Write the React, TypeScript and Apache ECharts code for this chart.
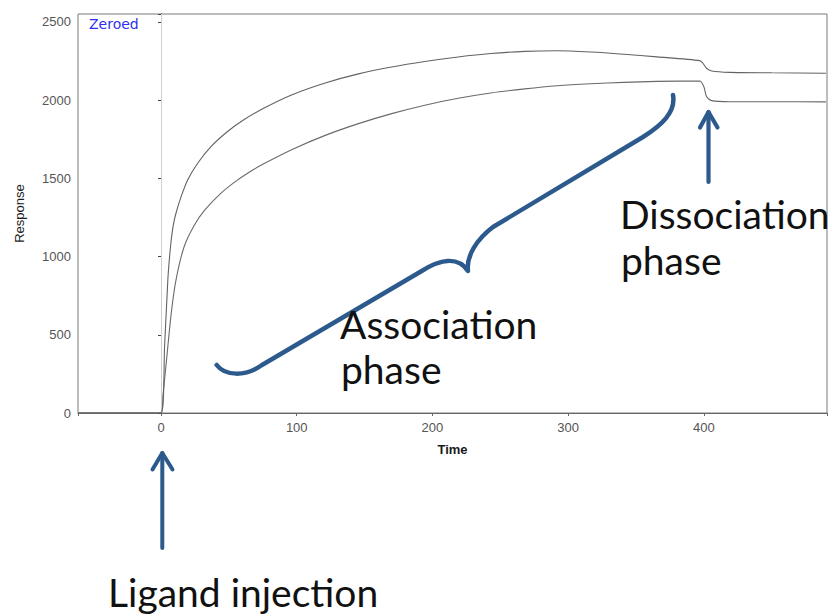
import React, { useEffect, useRef } from "react";
import * as echarts from "echarts";

const xTickLabels = [0, 100, 200, 300, 400];
const yTickLabels = [0, 500, 1000, 1500, 2000, 2500];

const upperTime = [-61, 0, 2.6, 5, 6.2, 7.5, 9, 11, 14.8, 19.6, 27, 36.8, 49, 61, 76, 96.6, 121, 145.5, 170, 194.4, 219, 243, 268, 292, 316.6, 341, 365.5, 397, 399, 402, 405.8, 419, 450, 490];
const upperResp = [0, 0, 424, 850, 990, 1106, 1200, 1277, 1383, 1490, 1597, 1703, 1800, 1875, 1950, 2035, 2110, 2168, 2212, 2247, 2276, 2298, 2312, 2316, 2308, 2294, 2277, 2253, 2240, 2204, 2187, 2178, 2175, 2172];

const lowerTime = [-61, 0, 1.5, 3.8, 7.5, 11, 17, 24.5, 32, 44, 56, 68.5, 76, 96.6, 121, 145.5, 170, 194.4, 219, 243, 268, 292, 316.6, 341, 365.5, 397, 400, 402, 405.8, 419, 450, 490];
const lowerResp = [0, 0, 120, 318, 637, 850, 1063, 1200, 1295, 1404, 1487, 1558, 1595, 1685, 1775, 1850, 1914, 1968, 2012, 2046, 2072, 2092, 2105, 2114, 2120, 2123, 2087, 2023, 1997, 1990, 1990, 1989];

const injectionTime = 0;

const BRACE_D =
  "M216.7,365 C225,376 245,377 262,365 L420,272 C440,259 458,256 468,271 C466,256 477,239 493,227 L643,137 C662,125 676,112 673,95";

echarts.graphic.registerShape("brace", echarts.graphic.extendPath(BRACE_D, {}));

export default function App() {
  const ref = useRef<HTMLDivElement>(null);

  useEffect(() => {
    document.body.style.margin = "0";
    if (!ref.current) return;
    const chart = echarts.init(ref.current, undefined, { renderer: "svg" });
    const blue = "#2D5A8C";
    const annFont = "Lato, 'Open Sans', sans-serif";
    const option: any = {
      animation: false,
      backgroundColor: "#ffffff",
      grid: {
        left: 78,
        right: -1,
        top: 14,
        height: 399,
        show: true,
        borderColor: "#7a7a7a",
        borderWidth: 1,
        containLabel: false,
      },
      xAxis: {
        type: "value",
        min: -61.2,
        max: 490.8,
        splitNumber: 5,
        name: "Time",
        nameLocation: "middle",
        nameGap: 30,
        nameTextStyle: { fontFamily: "Liberation Sans, Arial", fontSize: 13, color: "#1a1a1a", fontWeight: "bold" },
        axisLine: { show: true, onZero: false, lineStyle: { color: "#666", width: 1 } },
        axisTick: { show: true, length: 3, lineStyle: { color: "#666" } },
        axisLabel: {
          margin: 8,
          fontFamily: "Liberation Sans, Arial",
          fontSize: 13,
          color: "#555",
          formatter: (v: number) => (xTickLabels.includes(v) ? String(v) : ""),
        },
        splitLine: { show: false },
      },
      yAxis: {
        type: "value",
        min: 0,
        max: 2551,
        interval: 500,
        name: "Response",
        nameLocation: "middle",
        nameGap: 52,
        nameTextStyle: { fontFamily: "Liberation Sans, Arial", fontSize: 13, color: "#1a1a1a" },
        axisLine: { show: true, lineStyle: { color: "#333", width: 1 } },
        axisTick: { show: true, length: 3, lineStyle: { color: "#444" } },
        axisLabel: {
          margin: 7,
          fontFamily: "Liberation Sans, Arial",
          fontSize: 13,
          color: "#555",
          formatter: (v: number) => (yTickLabels.includes(v) ? String(v) : ""),
        },
        splitLine: { show: false },
      },
      series: [
        {
          type: "line",
          data: lowerTime.map((t, i) => [t, lowerResp[i]]),
          showSymbol: false,
          smooth: 0.25,
          lineStyle: { color: "#6a6a6a", width: 1.1 },
          z: 3,
          markLine: {
            silent: true,
            symbol: "none",
            label: { show: false },
            lineStyle: { color: "#cfcfcf", width: 1, type: "solid" },
            data: [{ xAxis: injectionTime }],
            z: 1,
          },
        },
        {
          type: "line",
          data: upperTime.map((t, i) => [t, upperResp[i]]),
          showSymbol: false,
          smooth: 0.25,
          lineStyle: { color: "#636363", width: 1.1 },
          z: 3,
        },
      ],
      graphic: [
        {
          type: "text",
          left: 89,
          top: 17,
          style: { text: "Zeroed", font: "14px 'DejaVu Sans'", fill: "#2E2EF0" },
        },
        {
          type: "brace",
          x: 0,
          y: 0,
          scaleX: 1,
          scaleY: 1,
          style: { fill: "none", stroke: blue, lineWidth: 4.5, lineCap: "round", lineJoin: "round" },
        },
        {
          type: "line",
          shape: { x1: 162.3, y1: 548, x2: 162.3, y2: 453 },
          style: { stroke: blue, lineWidth: 4, lineCap: "round" },
        },
        {
          type: "polyline",
          shape: { points: [[152.5, 469.5], [162.3, 453], [172.5, 469.5]] },
          style: { stroke: blue, lineWidth: 4, lineCap: "round", lineJoin: "round", fill: "none" },
        },
        {
          type: "line",
          shape: { x1: 708.5, y1: 182, x2: 708.5, y2: 112 },
          style: { stroke: blue, lineWidth: 4.2, lineCap: "round" },
        },
        {
          type: "polyline",
          shape: { points: [[700, 127.5], [708.5, 112], [717.5, 127.5]] },
          style: { stroke: blue, lineWidth: 4.2, lineCap: "round", lineJoin: "round", fill: "none" },
        },
        {
          type: "text",
          x: 108,
          y: 592,
          style: { text: "Ligand injection", font: `39px ${annFont}`, fill: "#111", verticalAlign: "middle" },
        },
        {
          type: "text",
          x: 340,
          y: 324,
          style: { text: "Association", font: `39px ${annFont}`, fill: "#111", verticalAlign: "middle" },
        },
        {
          type: "text",
          x: 341,
          y: 369,
          style: { text: "phase", font: `39px ${annFont}`, fill: "#111", verticalAlign: "middle" },
        },
        {
          type: "text",
          x: 620,
          y: 214,
          style: { text: "Dissociation", font: `39px ${annFont}`, fill: "#111", verticalAlign: "middle" },
        },
        {
          type: "text",
          x: 621,
          y: 260,
          style: { text: "phase", font: `39px ${annFont}`, fill: "#111", verticalAlign: "middle" },
        },
      ],
    };
    chart.setOption(option);
    return () => chart.dispose();
  }, []);

  return <div ref={ref} style={{ width: 830, height: 614 }} />;
}
